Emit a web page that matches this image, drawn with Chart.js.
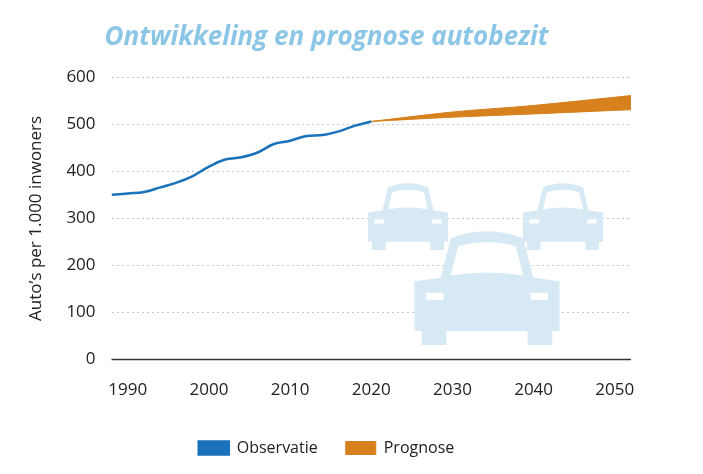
<!DOCTYPE html><html><head><meta charset="utf-8">
<script src="https://cdn.jsdelivr.net/npm/chart.js@4"></script>
<style>body{margin:0;background:#fff}#w{width:703px;height:474px}</style></head><body><div id="w"><canvas id="c"></canvas></div>
<script>
const obsYears=[1988,1990,1992,1994,1996,1998,2000,2002,2004,2006,2008,2010,2012,2014,2016,2018,2020];
const obsValues=[350,353,356,366,376,390,410,425,430,440,458,465,475,477,485,497,506];
const progYears=[2020,2030,2040,2052];
const progLow=[506,515,522,531];
const progHigh=[506,526,540,561];
const yTicks=[0,100,200,300,400,500,600];
const xTicks=[1990,2000,2010,2020,2030,2040,2050];

const pts=(xs,ys)=>xs.map((x,i)=>({x,y:ys[i]}));
function car(ctx,cx,by,w,hr){
  const h=w*hr;ctx.save();ctx.fillStyle='#d6e9f5';ctx.beginPath();
  const l=cx-w/2,r=cx+w/2,t=by-h;
  ctx.moveTo(l+w*0.18,t+h*0.42);ctx.lineTo(l+w*0.25,t+h*0.08);
  ctx.quadraticCurveTo(cx,t-h*0.04,r-w*0.25,t+h*0.08);ctx.lineTo(r-w*0.18,t+h*0.42);
  ctx.lineTo(r,t+h*0.45);ctx.lineTo(r,by-h*0.12);ctx.lineTo(r-w*0.05,by-h*0.12);ctx.lineTo(r-w*0.05,by);
  ctx.lineTo(r-w*0.22,by);ctx.lineTo(r-w*0.22,by-h*0.12);ctx.lineTo(l+w*0.22,by-h*0.12);ctx.lineTo(l+w*0.22,by);
  ctx.lineTo(l+w*0.05,by);ctx.lineTo(l+w*0.05,by-h*0.12);ctx.lineTo(l,by-h*0.12);ctx.lineTo(l,t+h*0.45);ctx.closePath();ctx.fill();
  ctx.fillStyle='#fff';ctx.beginPath();ctx.moveTo(l+w*0.25,t+h*0.4);ctx.lineTo(l+w*0.3,t+h*0.15);ctx.quadraticCurveTo(cx,t+h*0.08,r-w*0.3,t+h*0.15);ctx.lineTo(r-w*0.25,t+h*0.4);ctx.quadraticCurveTo(cx,t+h*0.35,l+w*0.25,t+h*0.4);ctx.fill();
  ctx.fillRect(l+w*0.08,t+h*0.55,w*0.12,h*0.06);ctx.fillRect(r-w*0.2,t+h*0.55,w*0.12,h*0.06);
  ctx.restore();
}
const carsPlugin={id:'cars',beforeDatasetsDraw(ch){const c=ch.ctx;car(c,408,250,80,0.85);car(c,563,250,80,0.85);car(c,487,345,145,0.8);
  const y=ch.scales.y.getPixelForValue(0);c.save();c.strokeStyle='#333';c.lineWidth=1.5;c.beginPath();c.moveTo(ch.chartArea.left,y);c.lineTo(ch.chartArea.right,y);c.stroke();c.restore();}};
new Chart(document.getElementById('c'),{type:'line',
data:{datasets:[
{label:'Observatie',data:pts(obsYears,obsValues),borderColor:'#1a72bb',backgroundColor:'#1a72bb',borderWidth:2.5,pointRadius:0,tension:0.4,fill:false},
{label:'_low',data:pts(progYears,progLow),borderColor:'#d6801e',borderWidth:1,pointRadius:0,tension:0.3,fill:false},
{label:'Prognose',data:pts(progYears,progHigh),borderColor:'#d6801e',backgroundColor:'#d6801e',borderWidth:1,pointRadius:0,tension:0.3,fill:'-1'}
]},
options:{responsive:true,maintainAspectRatio:false,animation:false,
layout:{padding:{left:22,right:72,top:14,bottom:8}},
plugins:{title:{display:true,text:'Ontwikkeling en prognose autobezit',color:'#8cc6e7',font:{family:'Open Sans',size:26,weight:'bold',style:'italic'},padding:{top:8,bottom:24}},
legend:{position:'bottom',labels:{filter:i=>!i.text.startsWith('_'),sort:(a,b)=>a.datasetIndex-b.datasetIndex,boxWidth:30,boxHeight:13,color:'#222',font:{family:'Open Sans',size:16},padding:28}},tooltip:{enabled:false}},
scales:{x:{type:'linear',min:1988,max:2052,afterBuildTicks:a=>{a.ticks=xTicks.map(v=>({value:v}))},
ticks:{color:'#222',font:{family:'Open Sans',size:17},callback:v=>String(v),padding:12,maxRotation:0},grid:{display:false},border:{display:false}},
y:{min:0,max:600,afterBuildTicks:a=>{a.ticks=yTicks.map(v=>({value:v}))},ticks:{color:'#222',font:{family:'Open Sans',size:17},padding:16},
grid:{color:c=>c.tick.value===0?'rgba(0,0,0,0)':'#c8c8c8',drawTicks:false},border:{display:false,dash:[2,3]},
title:{display:true,text:'Auto’s per 1.000 inwoners',color:'#222',font:{family:'Open Sans',size:17}}}}},
plugins:[carsPlugin]});
</script></body></html>
